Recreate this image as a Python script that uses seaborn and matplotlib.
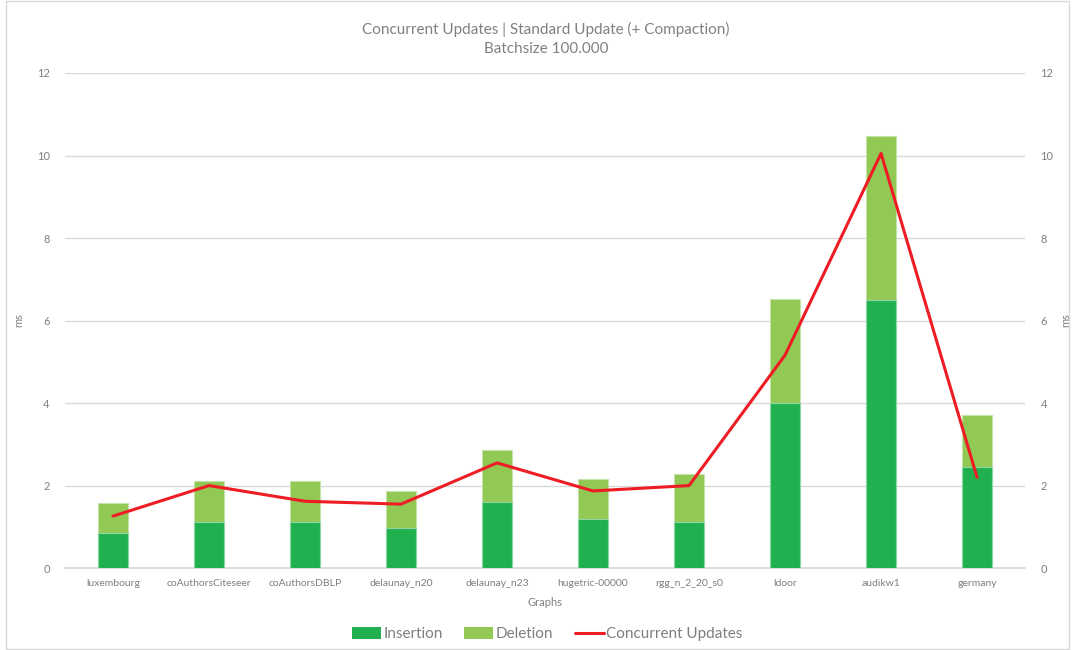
import numpy as np
import pandas as pd
import matplotlib
matplotlib.use("Agg")
import matplotlib.pyplot as plt
import seaborn as sns
from matplotlib.patches import Patch
from matplotlib.lines import Line2D

graphs = ["luxembourg", "coAuthorsCiteseer", "coAuthorsDBLP", "delaunay_n20", "delaunay_n23",
          "hugetric-00000", "rgg_n_2_20_s0", "ldoor", "audikw1", "germany"]
insertion = [0.85, 1.11, 1.11, 0.97, 1.61, 1.20, 1.11, 4.01, 6.50, 2.45]
deletion = [0.73, 1.01, 1.01, 0.89, 1.25, 0.97, 1.18, 2.51, 3.97, 1.26]
concurrent = [1.26, 2.00, 1.62, 1.55, 2.55, 1.87, 2.00, 5.16, 10.05, 2.20]
yticks = [0, 2, 4, 6, 8, 10, 12]

sns.set_theme(style="white")
plt.rcParams['font.family'] = ['Lato', 'DejaVu Sans']

C_INS = "#21B04F"
C_DEL = "#92C854"
C_LINE = "#EE1C24"
C_TXT = "#7F7F7F"
C_GRID = "#D9D9D9"

df = pd.DataFrame({"graph": graphs, "ins": insertion, "del": deletion,
                   "total": np.array(insertion) + np.array(deletion), "conc": concurrent})

fig = plt.figure(figsize=(10.73, 6.5), dpi=100)
ax = fig.add_axes([0.0606, 0.126, 0.8947, 0.7617])

sns.barplot(data=df, x="graph", y="total", color=C_DEL, width=0.31, ax=ax,
            edgecolor="#C5E3A6", linewidth=0.8, saturation=1, zorder=2)
sns.barplot(data=df, x="graph", y="ins", color=C_INS, width=0.31, ax=ax,
            edgecolor="#8FD6A4", linewidth=0.8, saturation=1, zorder=3)
sns.lineplot(x=np.arange(len(graphs)), y=df["conc"].values, color=C_LINE, linewidth=2.2,
             ax=ax, zorder=4)

ax.set_xlim(-0.5, len(graphs) - 0.5)
ax.set_ylim(0, 12)
ax.set_yticks(yticks)
ax.yaxis.grid(True, color=C_GRID, linewidth=1)
ax.set_axisbelow(True)
for s in ["top", "right", "left"]:
    ax.spines[s].set_visible(False)
ax.spines["bottom"].set_color(C_GRID)
ax.tick_params(axis="both", length=0, colors=C_TXT, labelsize=8)
ax.tick_params(axis="x", pad=8, labelsize=7.5)
ax.tick_params(axis="y", pad=11)
ax.set_xlabel("Graphs", color=C_TXT, fontsize=8, labelpad=6)
ax.set_ylabel("ms", color=C_TXT, fontsize=8, labelpad=9)

ax2 = ax.twinx()
ax2.set_ylim(0, 12)
ax2.set_yticks(yticks)
for s in ["top", "right", "left", "bottom"]:
    ax2.spines[s].set_visible(False)
ax2.tick_params(axis="y", length=0, colors=C_TXT, labelsize=8, pad=11)
ax2.set_ylabel("ms", color=C_TXT, fontsize=8, labelpad=5)

fig.text(0.509, 0.955, "Concurrent Updates | Standard Update (+ Compaction)", ha="center",
         va="center", color="#808080", fontsize=11)
fig.text(0.509, 0.925, "Batchsize 100.000", ha="center", va="center", color="#808080", fontsize=11)

handles = [Patch(facecolor=C_INS, edgecolor="none"),
           Patch(facecolor=C_DEL, edgecolor="none"),
           Line2D([0], [0], color=C_LINE, linewidth=2.2)]
fig.legend(handles, ["Insertion", "Deletion", "Concurrent Updates"], loc="center",
           bbox_to_anchor=(0.51, 0.024), ncol=3, frameon=False, fontsize=11,
           labelcolor=C_TXT, handlelength=1.9, handleheight=0.8, handletextpad=0.15,
           columnspacing=1.4)

border = plt.Rectangle((0.006, 0.002), 0.99, 0.996, transform=fig.transFigure, fill=False,
                       edgecolor="#D9D9D9", linewidth=1)
fig.add_artist(border)

fig.savefig("out.png", dpi=100, facecolor="white")
